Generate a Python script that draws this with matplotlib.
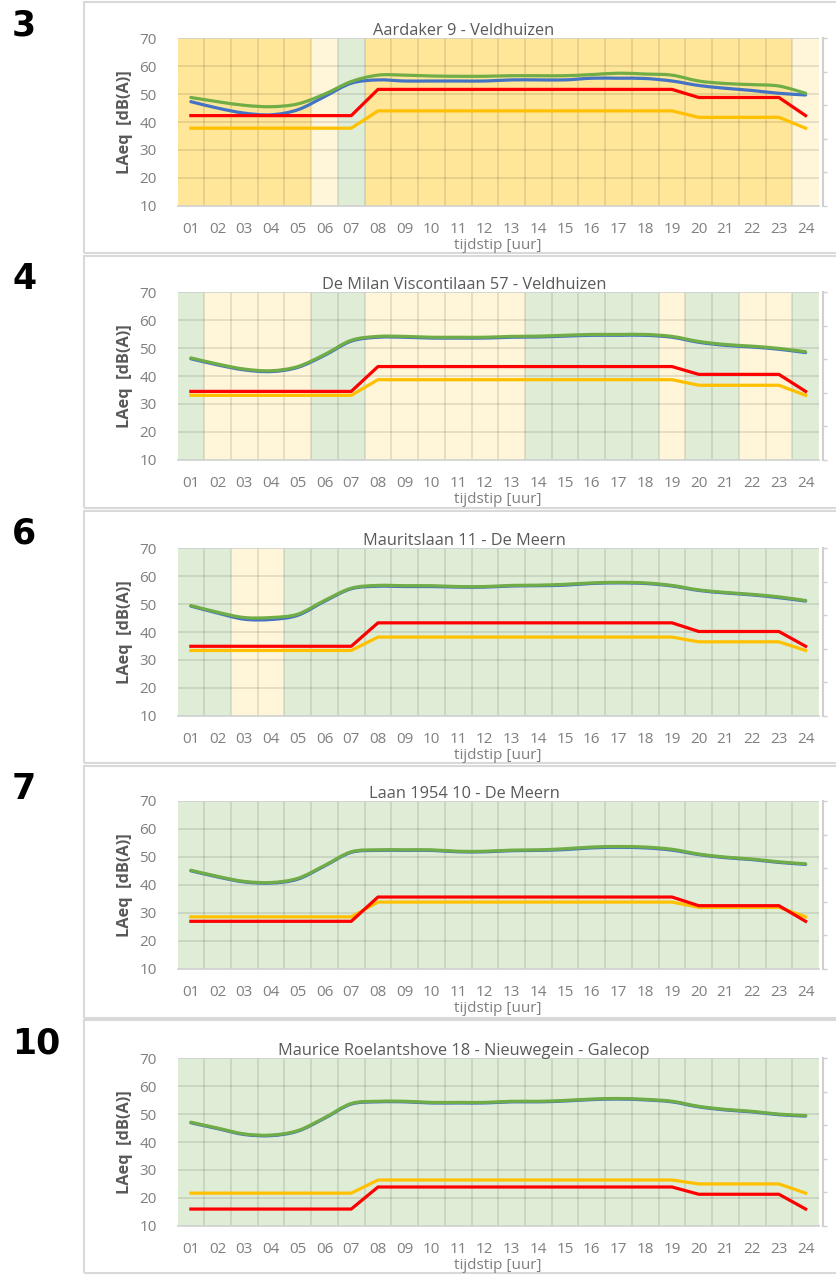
import numpy as np
import matplotlib
matplotlib.use("Agg")
import matplotlib.pyplot as plt
from matplotlib.path import Path
from matplotlib.patches import PathPatch, Rectangle
from matplotlib import font_manager as fm

# ---------------- data ----------------
hours = ["01", "02", "03", "04", "05", "06", "07", "08", "09", "10", "11", "12",
         "13", "14", "15", "16", "17", "18", "19", "20", "21", "22", "23", "24"]
panel_numbers = ["3", "4", "6", "7", "10"]
titles = ["Aardaker 9 - Veldhuizen",
          "De Milan Viscontilaan 57 - Veldhuizen",
          "Mauritslaan 11 - De Meern",
          "Laan 1954 10 - De Meern",
          "Maurice Roelantshove 18 - Nieuwegein - Galecop"]

# background class per hour: O = orange, C = cream, G = green
bg_classes = [
    "OOOOOCGOOOOOOOOOOOOOOOOC",
    "GCCCCGGCCCCCCGGGGGCGGCCG",
    "GGCCGGGGGGGGGGGGGGGGGGGG",
    "GGGGGGGGGGGGGGGGGGGGGGGG",
    "GGGGGGGGGGGGGGGGGGGGGGGG",
]

green_1 = [48.8, 47.3, 46.0, 45.5, 46.5, 50.0, 54.5, 56.8, 56.8, 56.5, 56.4, 56.4,
           56.6, 56.6, 56.6, 57.0, 57.5, 57.2, 56.8, 54.7, 53.8, 53.4, 52.9, 50.3]
blue_1 = [47.3, 45.0, 43.2, 42.6, 44.4, 49.1, 53.9, 55.1, 54.7, 54.7, 54.7, 54.7,
          55.1, 55.1, 55.1, 55.7, 55.7, 55.6, 54.7, 53.1, 52.1, 51.3, 50.3, 49.7]
red_1 = [42.3] * 7 + [51.7] * 12 + [48.8] * 4 + [42.3]
yellow_1 = [37.8] * 7 + [44.0] * 12 + [41.7] * 4 + [37.8]

green_2 = [46.5, 44.3, 42.5, 41.9, 43.4, 47.7, 52.8, 54.2, 54.2, 53.9, 53.9, 53.9,
           54.2, 54.3, 54.6, 54.9, 54.9, 54.9, 54.2, 52.4, 51.3, 50.7, 49.9, 48.7]
blue_2 = [46.2, 44.0, 42.2, 41.6, 43.1, 47.4, 52.5, 53.9, 53.9, 53.6, 53.6, 53.6,
          53.9, 54.0, 54.3, 54.6, 54.6, 54.6, 53.9, 52.1, 51.0, 50.4, 49.6, 48.4]
red_2 = [34.5] * 7 + [43.4] * 12 + [40.6] * 4 + [34.5]
yellow_2 = [33.1] * 7 + [38.7] * 12 + [36.7] * 4 + [33.1]

green_3 = [49.5, 47.1, 45.2, 45.2, 46.4, 51.3, 55.7, 56.7, 56.6, 56.6, 56.3, 56.3,
           56.7, 56.8, 57.1, 57.6, 57.8, 57.6, 56.7, 55.1, 54.2, 53.5, 52.6, 51.3]
blue_3 = [49.3, 46.8, 44.6, 44.5, 46.0, 51.0, 55.5, 56.4, 56.3, 56.3, 56.1, 56.1,
          56.5, 56.6, 56.8, 57.4, 57.6, 57.4, 56.5, 54.9, 54.0, 53.3, 52.3, 51.1]
red_3 = [34.9] * 7 + [43.3] * 12 + [40.2] * 4 + [34.9]
yellow_3 = [33.4] * 7 + [38.2] * 12 + [36.5] * 4 + [33.4]

green_4 = [45.2, 43.0, 41.2, 40.8, 42.3, 46.9, 51.8, 52.5, 52.5, 52.5, 52.0, 52.0,
           52.4, 52.5, 52.9, 53.5, 53.7, 53.5, 52.7, 51.0, 49.9, 49.2, 48.2, 47.5]
blue_4 = [45.0, 42.8, 41.0, 40.6, 42.0, 46.7, 51.6, 52.3, 52.3, 52.3, 51.8, 51.8,
          52.2, 52.3, 52.6, 53.2, 53.4, 53.2, 52.4, 50.8, 49.7, 49.0, 48.0, 47.3]
red_4 = [26.9] * 7 + [35.6] * 12 + [32.5] * 4 + [26.9]
yellow_4 = [28.5] * 7 + [33.8] * 12 + [31.9] * 4 + [28.5]

green_5 = [47.1, 45.0, 42.9, 42.5, 44.1, 48.7, 53.8, 54.6, 54.6, 54.2, 54.2, 54.2,
           54.6, 54.6, 54.9, 55.4, 55.6, 55.3, 54.6, 52.8, 51.7, 51.0, 50.0, 49.5]
blue_5 = [46.9, 44.8, 42.7, 42.3, 43.9, 48.5, 53.6, 54.4, 54.4, 54.0, 54.0, 54.0,
          54.4, 54.4, 54.7, 55.2, 55.4, 55.1, 54.4, 52.6, 51.5, 50.8, 49.8, 49.3]
red_5 = [16.0] * 7 + [23.9] * 12 + [21.3] * 4 + [16.0]
yellow_5 = [21.7] * 7 + [26.4] * 12 + [25.0] * 4 + [21.7]

greens = [green_1, green_2, green_3, green_4, green_5]
blues = [blue_1, blue_2, blue_3, blue_4, blue_5]
reds = [red_1, red_2, red_3, red_4, red_5]
yellows = [yellow_1, yellow_2, yellow_3, yellow_4, yellow_5]

y_ticks = [10, 20, 30, 40, 50, 60, 70]

# ---------------- style ----------------
BG = {"O": "#FFE699", "C": "#FFF5D8", "G": "#E0EDD6"}
C_GREEN = "#70AD47"
C_BLUE = "#4472C4"
C_RED = "#FF0000"
C_YELLOW = "#FFC000"

avail = {f.name for f in fm.fontManager.ttflist}
cond = "Open Sans"
for cand in ["Liberation Sans Narrow", "Open Sans", "Liberation Sans"]:
    if cand in avail:
        cond = cand
        break
narrow = cond == "Liberation Sans Narrow"
FS_TICK = 12.5 if narrow else 11
FS_TITLE = 13 if narrow else 11.8
FS_YLAB = 13 if narrow else 11.8

W, H = 836, 1276
fig = plt.figure(figsize=(W / 100, H / 100), dpi=100)

def fx(px):
    return px / W

def fy(py):
    return 1 - py / H

def smooth_path(xs, ys):
    pts = np.column_stack([xs, ys]).astype(float)
    n = len(pts)
    verts = [pts[0]]
    codes = [Path.MOVETO]
    for i in range(n - 1):
        p0 = pts[i - 1] if i > 0 else pts[i]
        p1 = pts[i]
        p2 = pts[i + 1]
        p3 = pts[i + 2] if i + 2 < n else pts[i + 1]
        c1 = p1 + (p2 - p0) / 6.0
        c2 = p2 - (p3 - p1) / 6.0
        verts += [c1, c2, p2]
        codes += [Path.CURVE4] * 3
    return Path(verts, codes)

box_tops = [2, 256, 511, 766, 1020]
box_bots = [253, 508, 763, 1018, 1273]
plot_tops = [38.3, 292.3, 548.3, 801.0, 1058.3]
plot_h = 167.5
pl, pr = 177.5, 819.0

x = np.arange(1, 25)

for k in range(5):
    # panel frame
    fig.add_artist(Rectangle((fx(84), fy(box_bots[k])), fx(900) - fx(84),
                             fy(box_tops[k]) - fy(box_bots[k]),
                             transform=fig.transFigure, fill=False,
                             edgecolor="#D9D9D9", linewidth=1.5))
    # panel number
    fig.text(fx(12), fy(box_tops[k] + 23), panel_numbers[k], fontsize=25,
             fontweight="bold", color="black", ha="left", va="center",
             family="DejaVu Sans")

    top = plot_tops[k]
    ax = fig.add_axes([fx(pl), fy(top + plot_h), fx(pr) - fx(pl), plot_h / H])
    ax.set_xlim(0.5, 24.5)
    ax.set_ylim(10, 70)
    # background bands
    for i, c in enumerate(bg_classes[k]):
        ax.axvspan(x[i] - 0.5, x[i] + 0.5, color=BG[c], lw=0, zorder=0)
    # grid
    for xb in np.arange(1.5, 24.5, 1.0):
        ax.axvline(xb, color="black", alpha=0.12, lw=1.1, zorder=1)
    for yv in y_ticks[1:-1]:
        ax.axhline(yv, color="black", alpha=0.12, lw=1.1, zorder=1)
    ax.axhline(70, color="#D0D0D0", lw=1.2, zorder=1)

    # series
    ax.add_patch(PathPatch(smooth_path(x, blues[k]), fill=False, edgecolor=C_BLUE,
                           lw=2.3, zorder=3, capstyle="round", joinstyle="round"))
    ax.add_patch(PathPatch(smooth_path(x, greens[k]), fill=False, edgecolor=C_GREEN,
                           lw=2.3, zorder=4, capstyle="round", joinstyle="round"))
    ax.plot(x, yellows[k], color=C_YELLOW, lw=2.3, zorder=5, solid_joinstyle="round")
    ax.plot(x, reds[k], color=C_RED, lw=2.3, zorder=6, solid_joinstyle="round")

    # axes styling
    for s in ["left", "top", "right"]:
        ax.spines[s].set_visible(False)
    ax.spines["bottom"].set_color("#D0D0D0")
    ax.spines["bottom"].set_linewidth(1.2)
    ax.set_xticks(x)
    ax.set_xticklabels(hours, family=cond, fontsize=FS_TICK, color="#7F7F7F")
    ax.set_yticks(y_ticks)
    ax.set_yticklabels([str(v) for v in y_ticks], family=cond, fontsize=FS_TICK,
                       color="#7F7F7F")
    ax.tick_params(axis="x", length=0, pad=12)
    ax.tick_params(axis="y", length=0, pad=15)

    # secondary (unlabelled) right axis
    ax2 = ax.twinx()
    ax2.set_ylim(0, 1)
    ax2.set_yticks([0, 0.2, 0.4, 0.6, 0.8, 1.0])
    ax2.set_yticklabels([])
    for s in ["left", "top", "bottom"]:
        ax2.spines[s].set_visible(False)
    ax2.spines["right"].set_color("#D0D0D0")
    ax2.spines["right"].set_linewidth(1.5)
    ax2.spines["right"].set_position(("outward", 3))
    ax2.tick_params(axis="y", length=3, width=1, color="#D0D0D0", direction="out")

    # texts
    fig.text(fx(464), fy(top - 7), titles[k], family=cond, fontsize=FS_TITLE,
             color="#595959", ha="center", va="center")
    fig.text(fx((pl + pr) / 2), fy(top + plot_h + 40), "tijdstip [uur]", family=cond,
             fontsize=FS_TICK, color="#7F7F7F", ha="center", va="center")
    fig.text(fx(125), fy(top + plot_h / 2), "LAeq  [dB(A)]", family=cond,
             fontsize=FS_YLAB, fontweight="bold", color="#595959", rotation=90,
             ha="center", va="center")

fig.savefig("out.png", dpi=100)
